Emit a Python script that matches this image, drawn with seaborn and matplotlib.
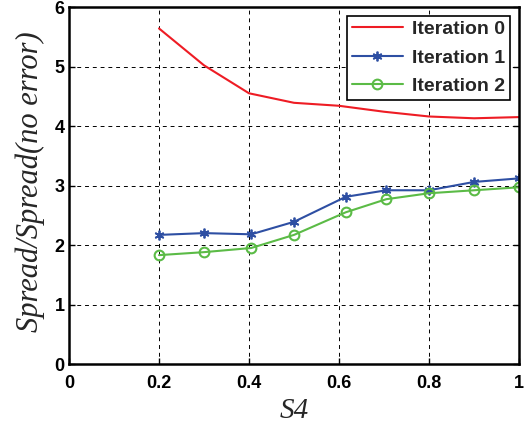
import matplotlib
matplotlib.use("Agg")
import matplotlib.pyplot as plt
import seaborn as sns
import pandas as pd

x_red = [0.2, 0.3, 0.4, 0.5, 0.6, 0.7, 0.8, 0.9, 1.0]
iter0 = [5.64, 5.02, 4.55, 4.39, 4.34, 4.24, 4.16, 4.13, 4.15]
x_pts = [0.2, 0.3, 0.405, 0.5, 0.615, 0.705, 0.8, 0.9, 1.0]
iter1 = [2.17, 2.20, 2.18, 2.39, 2.81, 2.92, 2.92, 3.06, 3.12]
iter2 = [1.83, 1.88, 1.95, 2.17, 2.55, 2.77, 2.87, 2.92, 2.97]
labels = ["Iteration 0", "Iteration 1", "Iteration 2"]
xticks = [0, 0.2, 0.4, 0.6, 0.8, 1]
xticklabels = ["0", "0.2", "0.4", "0.6", "0.8", "1"]
yticks = [0, 1, 2, 3, 4, 5, 6]

sns.set_style("white")
plt.rcParams['font.family'] = ['Liberation Sans', 'DejaVu Sans']

fig = plt.figure(figsize=(5.32, 4.25), dpi=100)
ax = fig.add_axes([0.1297, 0.1435, 0.8459, 0.84])

sns.lineplot(x=x_red, y=iter0, ax=ax, color="#ee1c24", lw=1.5, label=labels[0])
sns.lineplot(x=x_pts, y=iter1, ax=ax, color="#2e4fa3", lw=1.5, marker=(6, 2, 0),
             markersize=7, markeredgecolor="#2e4fa3", markeredgewidth=1.3, label=labels[1])
sns.lineplot(x=x_pts, y=iter2, ax=ax, color="#5bbb46", lw=1.5, marker="o",
             markersize=7, markerfacecolor="none", markeredgecolor="#5bbb46",
             markeredgewidth=1.5, label=labels[2])

ax.set_xlim(0, 1)
ax.set_ylim(0, 6)
ax.set_xticks(xticks)
ax.set_xticklabels(xticklabels)
ax.set_yticks(yticks)
for lab in ax.get_xticklabels() + ax.get_yticklabels():
    lab.set_fontweight("bold")
    lab.set_fontsize(13)
ax.grid(True, color="black", linestyle=(0, (4, 4)), linewidth=0.7)
ax.tick_params(direction="in", length=4, width=1, top=False, right=True,
               left=True, bottom=True, pad=3, colors="black")
ax.tick_params(axis="x", pad=8)
for s in ax.spines.values():
    s.set_visible(True)
    s.set_color("black")
    s.set_linewidth(1.8)

ax.set_xlabel("S4", fontfamily="Liberation Serif", fontstyle="italic", fontsize=21, labelpad=4)
ax.set_ylabel("Spread/Spread(no error)", fontfamily="Liberation Serif", fontstyle="italic",
              fontsize=22)
ax.yaxis.set_label_coords(-0.053, 0.51)

leg = ax.legend(loc="upper right", fancybox=False, framealpha=1, edgecolor="black",
                prop={"weight": "bold", "size": 14}, handlelength=2.6, handletextpad=0.5,
                borderaxespad=0.45, labelspacing=0.55, borderpad=0.25)
leg.get_frame().set_linewidth(1.2)

fig.savefig("out.png", dpi=100)
